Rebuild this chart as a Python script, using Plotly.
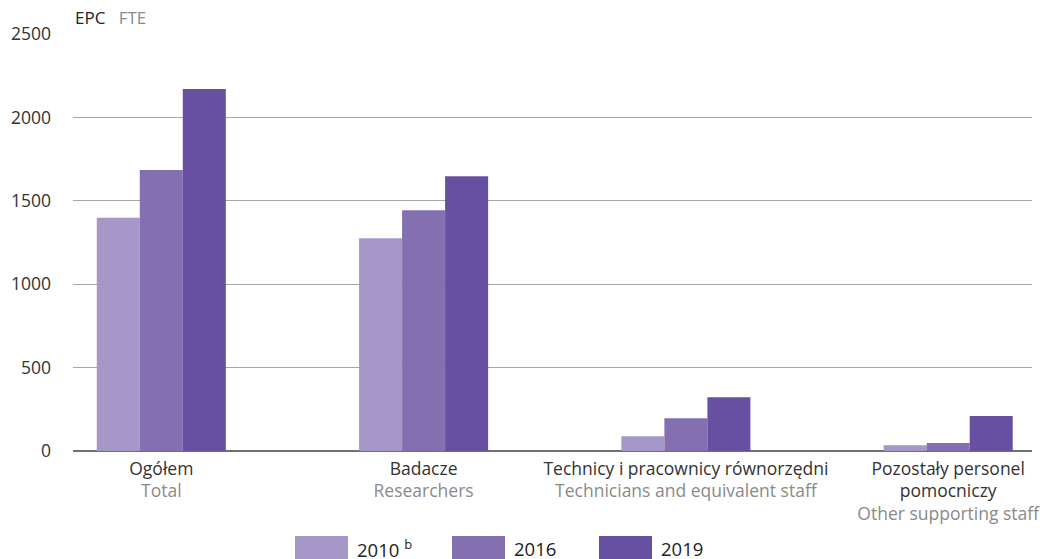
import plotly.graph_objects as go

categories_pl = ["Ogółem", "Badacze", "Technicy i pracownicy równorzędni", "Pozostały personel<br>pomocniczy"]
categories_en = ["Total", "Researchers", "Technicians and equivalent staff", "Other supporting staff"]
years = ["2010", "2016", "2019"]
legend_labels = ["2010 <sup>b</sup>", "2016", "2019"]
v2010 = [1398, 1275, 88, 34]
v2016 = [1684, 1443, 196, 48]
v2019 = [2170, 1647, 322, 210]
colors = ["#A597C8", "#8470B0", "#6750A1"]
y_ticks = [0, 500, 1000, 1500, 2000, 2500]

FONT = "Open Sans"
xpos = list(range(len(categories_pl)))
ticktext = [f"<span style='color:#333333'>{p}</span><br><span style='color:#8a8a8a'>{e}</span>"
            for p, e in zip(categories_pl, categories_en)]

fig = go.Figure()
for vals, c, y in zip([v2010, v2016, v2019], colors, years):
    fig.add_trace(go.Bar(x=xpos, y=vals, name=y, marker=dict(color=c, line=dict(width=0)),
                         showlegend=False))

fig.update_layout(
    width=1042, height=559,
    margin=dict(l=73, r=10, t=34, b=108, autoexpand=False),
    plot_bgcolor="white", paper_bgcolor="white",
    barmode="group", bargap=0.508, bargroupgap=0,
    font=dict(family=FONT, size=17.5, color="#333333"),
    xaxis=dict(range=[-0.3366, 3.3195], tickmode="array", tickvals=xpos, ticktext=ticktext,
               showgrid=False, zeroline=False, showline=False, ticks="", automargin=False,
               ticklabelstandoff=5, tickfont=dict(family=FONT, size=17.5)),
    yaxis=dict(range=[0, 2500], tickmode="array", tickvals=y_ticks, automargin=False,
               showgrid=True, gridcolor="#a6a6a6", gridwidth=1.3,
               zeroline=True, zerolinecolor="#707070", zerolinewidth=2,
               showline=False, ticks="", ticklabelstandoff=21,
               tickfont=dict(family=FONT, size=17.5, color="#333333")),
)

fig.add_annotation(xref="paper", yref="paper", x=0.0, y=1.0, xanchor="left", yanchor="middle",
                   yshift=17, text="EPC <span style='color:#8a8a8a'>  FTE</span>", showarrow=False,
                   font=dict(family=FONT, size=17, color="#222222"))

# legend drawn manually with wide swatches
sw_x = [295, 452, 599]
for x0, c, lab in zip(sw_x, colors, legend_labels):
    fig.add_shape(type="rect", xref="paper", yref="paper",
                  x0=(x0 - 73) / 959, x1=(x0 + 53 - 73) / 959,
                  y0=(451 - 561) / 417, y1=(451 - 536) / 417,
                  fillcolor=c, line=dict(width=0))
    fig.add_annotation(xref="paper", yref="paper", x=(x0 + 60 - 73) / 959, y=(451 - 548) / 417,
                       xanchor="left", yanchor="middle", text=lab, showarrow=False,
                       font=dict(family=FONT, size=18.5, color="#222222"))

fig.write_html("out.html", post_script="document.body.style.margin='0';",
               config={"displayModeBar": False})
